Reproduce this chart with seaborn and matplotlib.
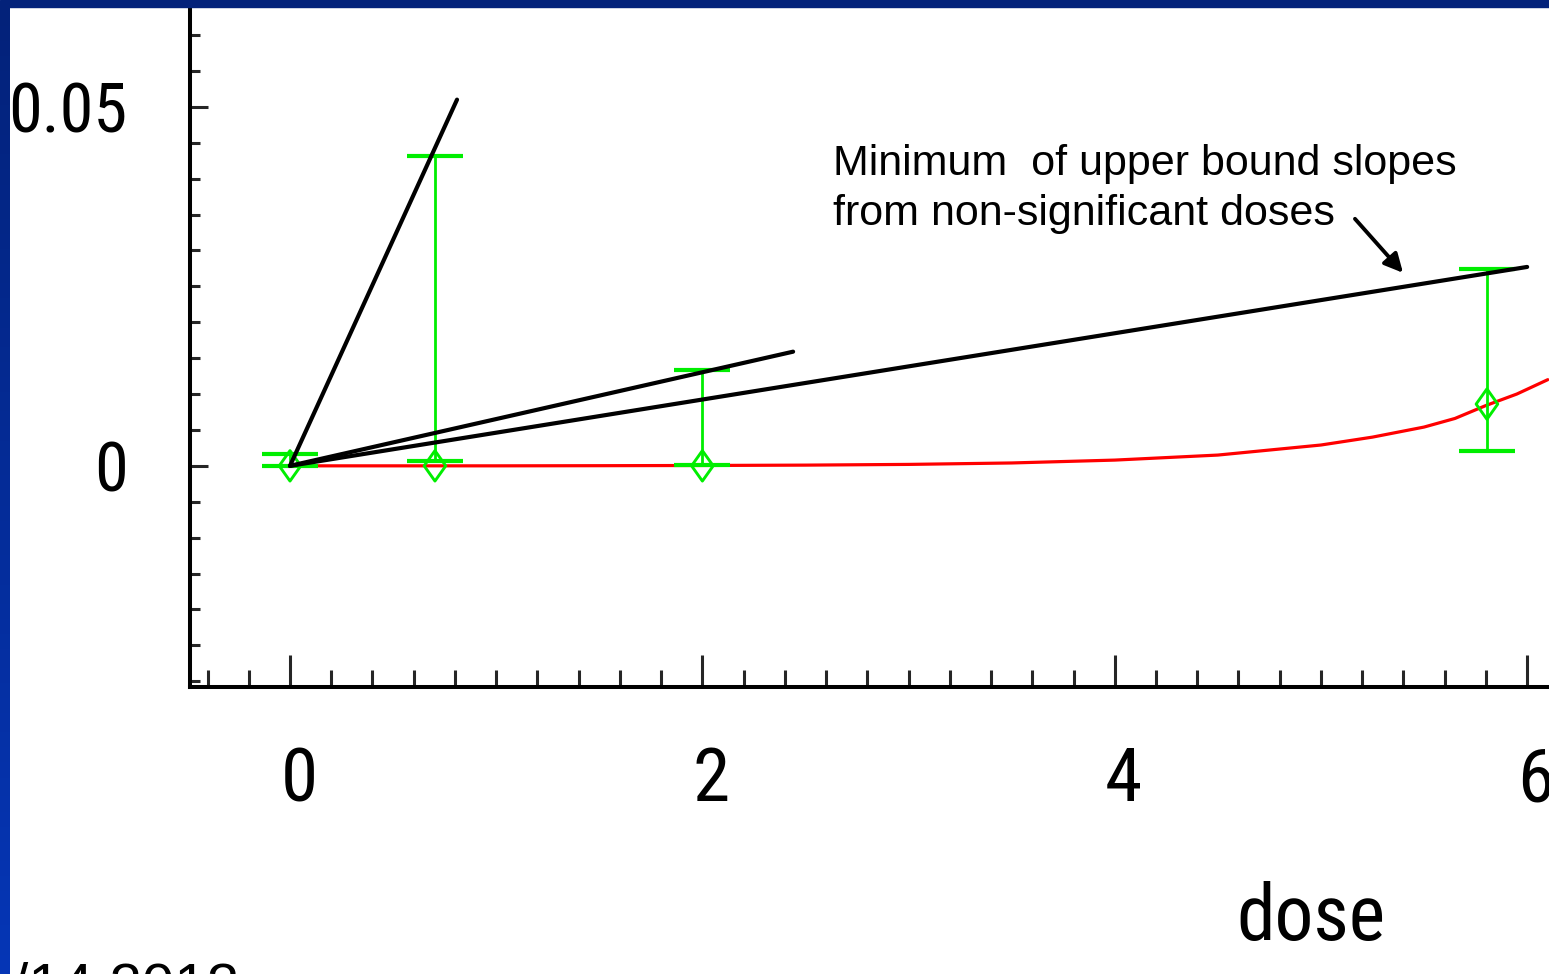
import os
import numpy as np
import pandas as pd
import matplotlib
matplotlib.use("Agg")
import matplotlib.pyplot as plt
from matplotlib import font_manager
from matplotlib.font_manager import FontProperties
from matplotlib.textpath import TextPath
from matplotlib.patches import Rectangle
from matplotlib.path import Path
from matplotlib.colors import LinearSegmentedColormap
from matplotlib.transforms import ScaledTranslation
from matplotlib.ticker import MultipleLocator, FixedLocator, FixedFormatter
import seaborn as sns

# ---- data -------------------------------------------------------------
# fitted dose-response curve
curve_dose = [0, 0.5, 1, 1.5, 2, 2.5, 3, 3.5, 4, 4.5, 5, 5.25, 5.5, 5.65, 5.8, 5.95, 6.1]
curve_resp = [0, 0, 0, 0.00002, 0.00005, 0.0001, 0.0002, 0.0004, 0.0008, 0.0015,
              0.0029, 0.0040, 0.0054, 0.0066, 0.0084, 0.0100, 0.0120]

# observed dose groups with confidence limits
obs_dose = [0, 0.703, 2.0, 5.805]
obs_mean = [0, 0, 0, 0.0086]
obs_low = [0, 0.0007, 0.0001, 0.0021]
obs_high = [0.0017, 0.0432, 0.0133, 0.0274]

# upper-bound slope rays from the origin (end point of each ray)
ray_end_dose = [0.81, 2.44, 6.0]
ray_end_resp = [0.051, 0.0159, 0.0277]

x_ticks = [0, 2, 4, 6]
x_tick_labels = ["0", "2", "4", "6"]
y_ticks = [0, 0.05]
y_tick_labels = ["0", "0.05"]

note_text = "Minimum  of upper bound slopes\nfrom non-significant doses"
date_text = "/14 2012"

# ---- fonts ------------------------------------------------------------
sns.set_theme(style="white")
plt.rcParams["font.family"] = ["Liberation Sans", "DejaVu Sans"]
plt.rcParams["text.color"] = "black"


def condensed_font_file():
    """Pick an upright regular-weight narrow/condensed sans face if one is installed."""
    files = font_manager.findSystemFonts()
    bad = ("bold", "italic", "oblique", "light", "thin", "black", "medium",
           "semi", "mono", "serif", "heavy", "book")
    prefs = ["liberationsansnarrow-regular", "notosans-condensed.", "notosans-condensedregular",
             "robotocondensed-regular", "notosans-extracondensed.", "opensans-condensed",
             "opensans_condensed", "dejavusanscondensed.", "condensed", "narrow"]
    cands = []
    for f in files:
        b = os.path.basename(f).lower()
        if ("narrow" in b or "condensed" in b) and not any(w in b for w in bad):
            cands.append((f, b))
    for p in prefs:
        for f, b in cands:
            if p in b:
                return f
    return None


cf = condensed_font_file()


def narrow_props(px_height, probe="0"):
    """Font properties whose glyph `probe` is about px_height pixels tall."""
    fp = FontProperties(fname=cf) if cf else FontProperties(family="DejaVu Sans",
                                                            stretch="condensed")
    h = TextPath((0, 0), probe, size=100, prop=fp).get_extents().height / 100.0
    fp.set_size(px_height / h * 0.72)
    return fp


fp_xtick = narrow_props(55)
fp_ytick = narrow_props(50)
fp_xlabel = narrow_props(59, "d")

# tall hollow diamond used for the group means
diamond = Path([(-0.71, 0), (0, 1), (0.71, 0), (0, -1), (-0.71, 0)],
               [Path.MOVETO, Path.LINETO, Path.LINETO, Path.LINETO, Path.CLOSEPOLY])

# ---- figure -----------------------------------------------------------
W, H = 1549, 974
fig = plt.figure(figsize=(W / 100, H / 100), dpi=100)
fig.patch.set_facecolor("white")

# slide frame: dark band on top, gradient strip on the left
fig.patches.append(Rectangle((0, 1 - 7 / H), 1, 7 / H, transform=fig.transFigure,
                             color="#03227a", zorder=0))
strip = fig.add_axes([0, 0, 10 / W, 1 - 7 / H])
grad = np.linspace(0, 1, 256).reshape(-1, 1)
cmap = LinearSegmentedColormap.from_list("frame", ["#03227a", "#0636b6"])
strip.imshow(grad, aspect="auto", cmap=cmap, origin="upper")
strip.set_axis_off()

ax = fig.add_axes([190 / W, (H - 687) / H, (W - 190) / W, (687 - 7) / H])
ax.set_facecolor("white")

# fitted curve
sns.lineplot(x=curve_dose, y=curve_resp, ax=ax, color="#ff0000", lw=2.3,
             zorder=2, estimator=None, sort=False)

# observed means with confidence limits
obs = pd.DataFrame({"dose": obs_dose, "mean": obs_mean, "low": obs_low, "high": obs_high})
mid = (obs["low"] + obs["high"]) / 2
half = (obs["high"] - obs["low"]) / 2
ax.errorbar(obs["dose"], mid, yerr=half,
            fmt="none", ecolor="#00ee00", elinewidth=2.0, capsize=20, capthick=3.0,
            zorder=3)
sns.scatterplot(data=obs, x="dose", y="mean", ax=ax, marker=diamond, s=480,
                facecolor="none", edgecolor="#00ee00", linewidth=2.1, zorder=4)

# slope rays
for d_end, r_end in zip(ray_end_dose, ray_end_resp):
    sns.lineplot(x=[0, d_end], y=[0, r_end], ax=ax, color="black", lw=3.0,
                 zorder=5, estimator=None, sort=False)

# annotation
ax.text(2.633, 0.04485, note_text, fontsize=31, va="top", ha="left",
        linespacing=1.33, color="black", zorder=6)
ax.annotate("", xy=(5.398, 0.02688), xytext=(5.165, 0.0344),
            arrowprops=dict(arrowstyle="-|>", color="black", lw=2.8,
                            mutation_scale=28, shrinkA=0, shrinkB=0), zorder=6)

# axes, ticks
ax.set_xlim(-0.485, 6.106)
ax.set_ylim(-0.0308, 0.0639)
for side in ["top", "right"]:
    ax.spines[side].set_visible(False)
for side in ["left", "bottom"]:
    ax.spines[side].set_visible(True)
    ax.spines[side].set_color("black")
    ax.spines[side].set_linewidth(2.9)

ax.xaxis.set_major_locator(FixedLocator(x_ticks))
ax.xaxis.set_major_formatter(FixedFormatter(x_tick_labels))
ax.xaxis.set_minor_locator(MultipleLocator(0.2))
ax.yaxis.set_major_locator(FixedLocator(y_ticks))
ax.yaxis.set_major_formatter(FixedFormatter(y_tick_labels))
ax.yaxis.set_minor_locator(MultipleLocator(0.005))

ax.tick_params(axis="x", which="major", direction="in", length=23, width=2.2,
               pad=42, labelcolor="black", bottom=True)
ax.tick_params(axis="x", which="minor", direction="in", length=12, width=2.2, bottom=True)
ax.tick_params(axis="y", which="major", direction="in", length=13, width=2.2,
               pad=45, labelcolor="black", left=True)
ax.tick_params(axis="y", which="minor", direction="in", length=7, width=2.2, left=True)

# dose labels sit a little to the right of their ticks
shift = ScaledTranslation(9 / 100, 0, fig.dpi_scale_trans)
for tick in ax.xaxis.get_major_ticks():
    tick.label1.set_fontproperties(fp_xtick)
    tick.label1.set_transform(tick.label1.get_transform() + shift)
for lab in ax.get_yticklabels():
    lab.set_fontproperties(fp_ytick)

ax.set_xlabel("dose", fontproperties=fp_xlabel, color="black")
ax.xaxis.label.set_va("baseline")
ax.xaxis.set_label_coords((1311 - 190) / (W - 190), (687 - 940) / (687 - 7))
ax.set_ylabel("")

fig.text(12 / W, 1 - 961 / H, date_text, fontsize=42, va="top", ha="left",
         color="black")

fig.savefig("out.png", dpi=100)
